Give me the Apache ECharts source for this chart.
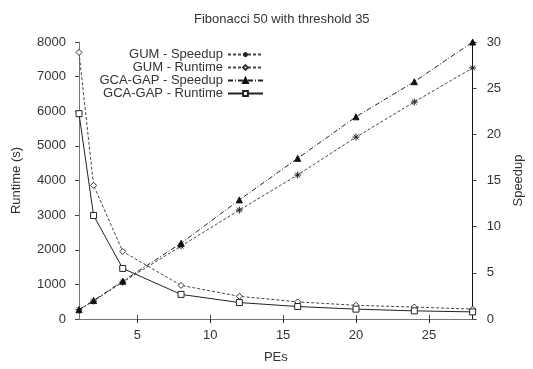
<!DOCTYPE html>
<html>
<head>
<meta charset="utf-8">
<script src="https://cdn.jsdelivr.net/npm/echarts@6/dist/echarts.min.js"></script>
<style>html,body{margin:0;padding:0;background:#fff}#c{width:533px;height:369px}</style>
</head>
<body>
<div id="c"></div>
<script>
var pes = [1, 2, 4, 8, 12, 16, 20, 24, 28];
var gumSpeedup = [1, 1.95, 4.0, 7.9, 11.8, 15.6, 19.7, 23.5, 27.2];
var gumRuntime = [7700, 3860, 1950, 970, 655, 495, 395, 345, 285];
var gcaSpeedup = [1, 2.0, 4.1, 8.2, 12.9, 17.4, 21.9, 25.7, 30];
var gcaRuntime = [5930, 2990, 1460, 710, 475, 360, 285, 235, 205];
var xTicks = [5, 10, 15, 20, 25];
var seriesNames = ['GUM - Speedup', 'GUM - Runtime', 'GCA-GAP - Speedup', 'GCA-GAP - Runtime'];

function pairs(ys) { return pes.map(function (x, i) { return [x, ys[i]]; }); }

var FONT = 'Liberation Sans, Arial, sans-serif';
var TC = '#333';
var txt = { fontFamily: FONT, fontSize: 13, color: TC };
var asterisk = 'path://M0,-5L0,5M-5,0L5,0M-3.5,-3.5L3.5,3.5M-3.5,3.5L3.5,-3.5';
function plain(v) { return String(v); }

var chart = echarts.init(document.getElementById('c'), null, { renderer: 'canvas' });
chart.setOption({
  animation: false,
  backgroundColor: '#fff',
  title: {
    text: 'Fibonacci 50 with threshold 35',
    left: 189, top: 8,
    textStyle: { fontFamily: FONT, fontSize: 13, fontWeight: 'normal', color: TC }
  },
  legend: {
    orient: 'vertical', align: 'right',
    right: 264, top: 43,
    itemWidth: 35, itemHeight: 6, itemGap: 0,
    textStyle: { fontFamily: FONT, fontSize: 13, color: TC, lineHeight: 13 },
    data: seriesNames
  },
  grid: { left: 79, right: 57, top: 42, bottom: 44, containLabel: false },
  xAxis: [{
    type: 'value', min: 1, max: 28, position: 'bottom',
    name: 'PEs', nameLocation: 'middle', nameGap: 32, nameTextStyle: txt,
    axisLine: { show: true, lineStyle: { color: '#222', width: 1 } },
    axisTick: { show: true, inside: false, length: 4, customValues: xTicks, lineStyle: { color: '#222' } },
    axisLabel: { show: true, margin: 10, customValues: xTicks, fontFamily: FONT, fontSize: 13, color: TC, formatter: plain },
    splitLine: { show: false }
  }, {
    type: 'value', min: 1, max: 28, position: 'top',
    axisLine: { show: true, lineStyle: { color: '#777', width: 1 } },
    axisTick: { show: true, inside: false, length: 4, customValues: xTicks, lineStyle: { color: '#444' } },
    axisLabel: { show: false },
    splitLine: { show: false }
  }],
  yAxis: [{
    type: 'value', min: 0, max: 8000, interval: 1000, position: 'left',
    name: 'Runtime (s)', nameLocation: 'middle', nameGap: 56, nameRotate: 90, nameTextStyle: txt,
    axisLine: { show: true, lineStyle: { color: '#777', width: 1 } },
    axisTick: { show: true, inside: false, length: 4, lineStyle: { color: '#444' } },
    axisLabel: { margin: 13, fontFamily: FONT, fontSize: 13, color: TC, formatter: plain },
    splitLine: { show: false }
  }, {
    type: 'value', min: 0, max: 30, interval: 5, position: 'right',
    name: 'Speedup', nameLocation: 'middle', nameGap: 34, nameRotate: 90, nameTextStyle: txt,
    axisLine: { show: true, lineStyle: { color: '#111', width: 1 } },
    axisTick: { show: true, inside: false, length: 4, lineStyle: { color: '#444' } },
    axisLabel: { margin: 14, fontFamily: FONT, fontSize: 13, color: TC, formatter: plain },
    splitLine: { show: false }
  }],
  series: [{
    name: seriesNames[0], type: 'line', yAxisIndex: 1, data: pairs(gumSpeedup),
    symbol: asterisk, symbolSize: 7,
    lineStyle: { color: '#444', width: 1, type: [3, 2] },
    itemStyle: { color: 'rgba(0,0,0,0)', borderColor: '#222', borderWidth: 1 }
  }, {
    name: seriesNames[1], type: 'line', yAxisIndex: 0, data: pairs(gumRuntime),
    symbol: 'diamond', symbolSize: 6,
    lineStyle: { color: '#444', width: 1, type: [3, 2] },
    itemStyle: { color: '#fff', borderColor: '#333', borderWidth: 1 }
  }, {
    name: seriesNames[2], type: 'line', yAxisIndex: 1, data: pairs(gcaSpeedup),
    symbol: 'triangle', symbolSize: 6,
    lineStyle: { color: '#222', width: 1, type: [5, 2, 1, 2] },
    itemStyle: { color: '#111', borderColor: '#111', borderWidth: 1 }
  }, {
    name: seriesNames[3], type: 'line', yAxisIndex: 0, data: pairs(gcaRuntime),
    symbol: 'rect', symbolSize: 6,
    lineStyle: { color: '#222', width: 1, type: 'solid' },
    itemStyle: { color: '#fff', borderColor: '#222', borderWidth: 1 }
  }]
});
</script>
</body>
</html>
